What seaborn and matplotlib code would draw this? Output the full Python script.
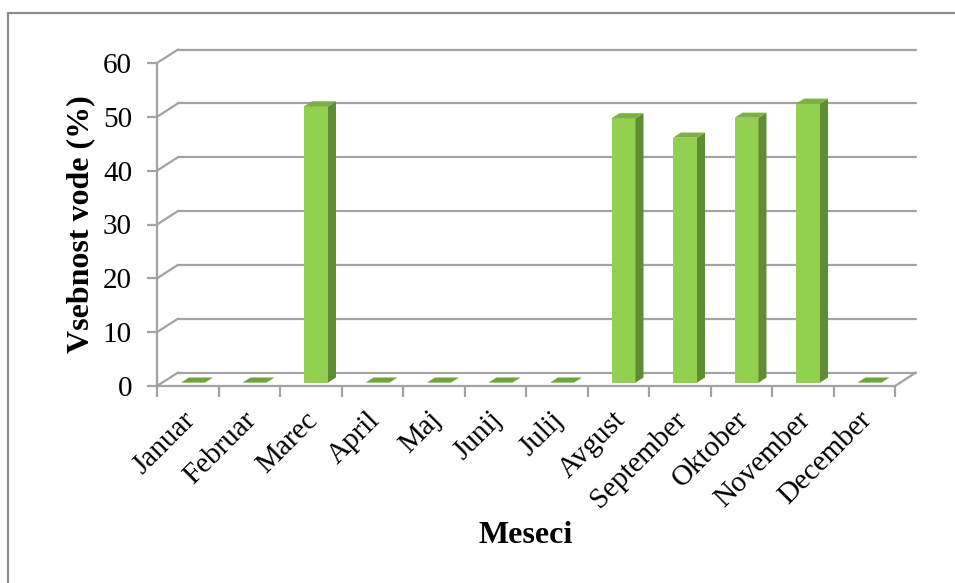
import numpy as np
import pandas as pd
import matplotlib
matplotlib.use("Agg")
import matplotlib.pyplot as plt
from matplotlib.patches import Polygon, Rectangle
from matplotlib.lines import Line2D
from matplotlib.transforms import ScaledTranslation
import seaborn as sns

months = ["Januar", "Februar", "Marec", "April", "Maj", "Junij", "Julij",
          "Avgust", "September", "Oktober", "November", "December"]
water_content = [0, 0, 51.3, 0, 0, 0, 0, 49.1, 45.5, 49.2, 51.8, 0]
y_ticks = [0, 10, 20, 30, 40, 50, 60]

x_label = "Meseci"
y_label = "Vsebnost vode (%)"

df = pd.DataFrame({"mesec": months, "vsebnost": water_content})

sns.set_theme(style="white")
plt.rcParams["font.family"] = ["Liberation Serif", "DejaVu Serif"]

W, H, DPI = 955, 583, 100
fig = plt.figure(figsize=(W / DPI, H / DPI), dpi=DPI)
fig.patch.set_facecolor("white")

# plot region in pixels (front plane)
L, R, B, T = 157, 895, 386, 63
ax = fig.add_axes([L / W, 1 - B / H, (R - L) / W, (B - T) / H])
ax.set_xlim(-0.5, len(months) - 0.5)
ax.set_ylim(0, 60)
ax.patch.set_alpha(0)

px_x = (R - L) / len(months)   # pixels per category
px_y = (B - T) / 60.0          # pixels per unit
DEPTH_X = 21 / px_x            # oblique depth offset in data units
DEPTH_Y = 13.5 / px_y

def proj(x, v, f):
    return x + DEPTH_X * f, v + DEPTH_Y * f

GRID = "#A3A3A3"
x0, x1 = -0.5, len(months) - 0.5

# back wall gridlines and side wall diagonals
for v in y_ticks:
    bx0, by = proj(x0, v, 1)
    bx1, _ = proj(x1, v, 1)
    ax.add_line(Line2D([bx0, bx1], [by, by], color=GRID, lw=1.6,
                       clip_on=False, zorder=1))
    ax.add_line(Line2D([x0, bx0], [v, by], color=GRID, lw=1.6,
                       clip_on=False, zorder=1))

# floor: front edge and right diagonal
ax.add_line(Line2D([x0, x1], [0, 0], color=GRID, lw=1.6, clip_on=False, zorder=1))
rx, ry = proj(x1, 0, 1)
ax.add_line(Line2D([x1, rx], [0, ry], color=GRID, lw=1.6, clip_on=False, zorder=1))
# front vertical axis
ax.add_line(Line2D([x0, x0], [0, 60], color=GRID, lw=1.6, clip_on=False, zorder=1))

# front faces of the columns
FACE = "#92D050"
SIDE = "#5F8D33"
TOP = "#7BB143"
FLAT = "#6FA33B"
bar_w = 24 / px_x
sns.barplot(data=df, x="mesec", y="vsebnost", color=FACE, width=bar_w,
            saturation=1, ax=ax, zorder=3)

f_front, f_depth = 0.25, 0.38
sx, sy = DEPTH_X * f_front, DEPTH_Y * f_front
dx, dy = DEPTH_X * f_depth, DEPTH_Y * f_depth
for p in list(ax.patches):
    p.set_x(p.get_x() + sx)
    p.set_y(p.get_y() + sy)
    p.set_edgecolor("none")
    p.set_clip_on(False)
    bx, by = p.get_x(), p.get_y()
    bw, bh = p.get_width(), p.get_height()
    top_col = TOP if bh > 0 else FLAT
    if bh > 0:
        ax.add_patch(Polygon([(bx + bw, by), (bx + bw + dx, by + dy),
                              (bx + bw + dx, by + bh + dy), (bx + bw, by + bh)],
                             closed=True, facecolor=SIDE, edgecolor="none",
                             clip_on=False, zorder=3))
    ax.add_patch(Polygon([(bx, by + bh), (bx + bw, by + bh),
                          (bx + bw + dx, by + bh + dy), (bx + dx, by + bh + dy)],
                         closed=True, facecolor=top_col, edgecolor="none",
                         clip_on=False, zorder=3))

# ticks and labels
for s in ax.spines.values():
    s.set_visible(False)
ax.set_yticks(y_ticks)
ax.set_yticklabels([str(v) for v in y_ticks], fontsize=21, color="black")
ax.tick_params(axis="y", which="major", left=True, length=7, width=1.6,
               color=GRID, pad=11)

ax.set_xticks(range(len(months)))
ax.set_xticks(np.arange(len(months) + 1) - 0.5, minor=True)
ax.tick_params(axis="x", which="major", bottom=True, length=0, pad=15)
ax.tick_params(axis="x", which="minor", bottom=True, length=8, width=1.6,
               color=GRID)
ax.set_xticklabels(months, fontsize=21, color="black")
shift = ScaledTranslation(-6 / DPI, 0, fig.dpi_scale_trans)
for lbl in ax.get_xticklabels():
    lbl.set_rotation(45)
    lbl.set_ha("right")
    lbl.set_va("top")
    lbl.set_rotation_mode("anchor")
    lbl.set_transform(lbl.get_transform() + shift)

ax.set_xlabel(x_label, fontsize=23, fontweight="bold", color="black")
ax.xaxis.set_label_coords(0.5, -0.464)
ax.xaxis.label.set_va("center")
ax.set_ylabel(y_label, fontsize=23, fontweight="bold", color="black")
ax.yaxis.set_label_coords(-0.104, 0.5)
ax.yaxis.label.set_va("center")

# chart area border
fig.add_artist(Rectangle((8 / W, -0.05), 1.2, 1 - 13 / H + 0.05,
                         transform=fig.transFigure, fill=False,
                         edgecolor="#8C8C8C", lw=1.6))

fig.savefig("out.png", dpi=DPI, facecolor="white")
